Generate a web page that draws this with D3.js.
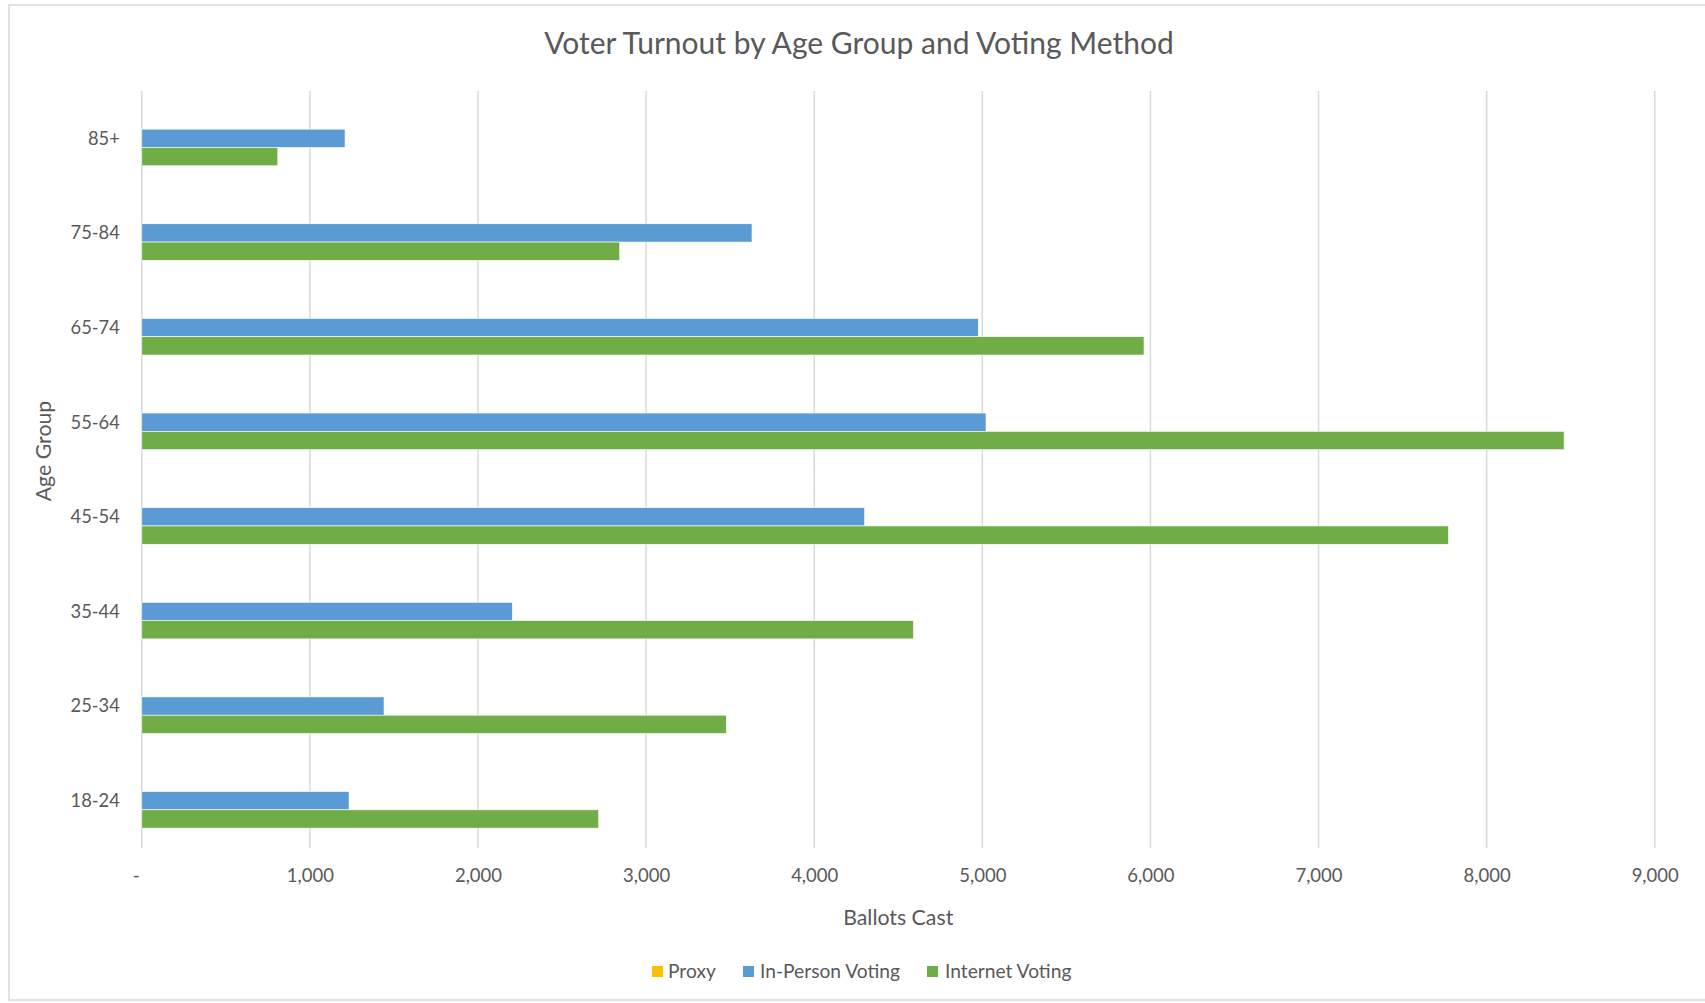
<!DOCTYPE html>
<html>
<head>
<meta charset="utf-8">
<script src="https://cdn.jsdelivr.net/npm/d3@7"></script>
<style>
  html, body { margin: 0; padding: 0; background: #fff; }
  svg { display: block; font-family: Lato, "Open Sans", sans-serif; }
</style>
</head>
<body>
<svg id="chart" width="1705" height="1003"></svg>
<script>
// ---- data ----
const categories = ["18-24", "25-34", "35-44", "45-54", "55-64", "65-74", "75-84", "85+"];
const seriesNames = ["Proxy", "In-Person Voting", "Internet Voting"];
const proxyValues    = [0, 0, 0, 0, 0, 0, 0, 0];
const inPersonValues = [1233, 1441, 2204, 4300, 5022, 4976, 3630, 1209];
const internetValues = [2718, 3477, 4590, 7773, 8461, 5962, 2843, 809];
const xTickValues = [0, 1000, 2000, 3000, 4000, 5000, 6000, 7000, 8000, 9000];
const titleText = "Voter Turnout by Age Group and Voting Method";
const xAxisTitle = "Ballots Cast";
const yAxisTitle = "Age Group";

const seriesValues = [proxyValues, inPersonValues, internetValues];
const colors = ["#FFC000", "#5B9BD5", "#70AD47"];

const svg = d3.select("#chart");
const textColor = "#595959";

// chart border
svg.append("rect")
  .attr("x", 9).attr("y", 5)
  .attr("width", 1705).attr("height", 995)
  .attr("fill", "#fff").attr("stroke", "#d9d9d9").attr("stroke-width", 1.5);

const plot = { left: 141.8, right: 141.8 + 9 * 168.1, top: 91, bottom: 848 };

const x = d3.scaleLinear().domain([0, 9000]).range([plot.left, plot.right]);
const y = d3.scaleBand().domain(categories).range([plot.bottom, plot.top])
  .paddingInner(0.42).paddingOuter(0.21);
const ySub = d3.scaleBand().domain(seriesNames).range([0, y.bandwidth()]);

// gridlines
svg.append("g")
  .selectAll("line").data(xTickValues).join("line")
  .attr("x1", d => x(d)).attr("x2", d => x(d))
  .attr("y1", plot.top).attr("y2", plot.bottom)
  .attr("stroke", "#d9d9d9").attr("stroke-width", 1.5);

// bars
const groups = svg.append("g").selectAll("g").data(categories).join("g")
  .attr("transform", d => `translate(0,${y(d)})`);
groups.selectAll("rect")
  .data((c, i) => seriesNames.map((s, j) => ({ s, j, v: seriesValues[j][i] })))
  .join("rect")
  .attr("x", x(0))
  .attr("y", d => ySub(d.s))
  .attr("width", d => x(d.v) - x(0))
  .attr("height", ySub.bandwidth())
  .attr("fill", d => colors[d.j])
  .attr("stroke", d => d.v > 0 ? "#ffffff" : "none")
  .attr("stroke-width", 0.6);

// x axis (labels only)
const xAxis = d3.axisBottom(x).tickValues(xTickValues)
  .tickFormat(d => d === 0 ? "-" : d3.format(",")(d))
  .tickSize(0).tickPadding(0);
const xg = svg.append("g").attr("transform", `translate(0,${plot.bottom + 34})`).call(xAxis);
xg.select(".domain").remove();
xg.selectAll("text").attr("fill", textColor).attr("font-size", 18.5)
  .attr("font-family", "Lato").attr("dy", 0)
  .filter(d => d === 0).attr("dx", -6);

// y axis (labels only)
const yAxis = d3.axisLeft(y).tickSize(0).tickPadding(22);
const yg = svg.append("g").attr("transform", `translate(${plot.left},0)`).call(yAxis);
yg.select(".domain").remove();
yg.selectAll("text").attr("fill", textColor).attr("font-size", 18.3)
  .attr("font-family", "Lato").attr("dy", "0.35em");

// title
svg.append("text")
  .attr("x", 859).attr("y", 54)
  .attr("text-anchor", "middle")
  .attr("fill", textColor).attr("font-size", 30)
  .text(titleText);

// axis titles
svg.append("text")
  .attr("x", (plot.left + plot.right) / 2).attr("y", 924.5)
  .attr("text-anchor", "middle")
  .attr("fill", textColor).attr("font-size", 21.3)
  .text(xAxisTitle);

svg.append("text")
  .attr("transform", "translate(51,451) rotate(-90)")
  .attr("text-anchor", "middle")
  .attr("fill", textColor).attr("font-size", 21.3)
  .text(yAxisTitle);

// legend
const legendItems = [
  { name: seriesNames[0], sx: 652, tx: 668 },
  { name: seriesNames[1], sx: 743, tx: 760 },
  { name: seriesNames[2], sx: 927, tx: 945 }
];
const lg = svg.append("g");
lg.selectAll("rect").data(legendItems).join("rect")
  .attr("x", d => d.sx).attr("y", 966)
  .attr("width", 11).attr("height", 11)
  .attr("fill", (d, i) => colors[i]);
lg.selectAll("text").data(legendItems).join("text")
  .attr("x", d => d.tx).attr("y", 978)
  .attr("fill", textColor).attr("font-size", 19.2)
  .text(d => d.name);
</script>
</body>
</html>
